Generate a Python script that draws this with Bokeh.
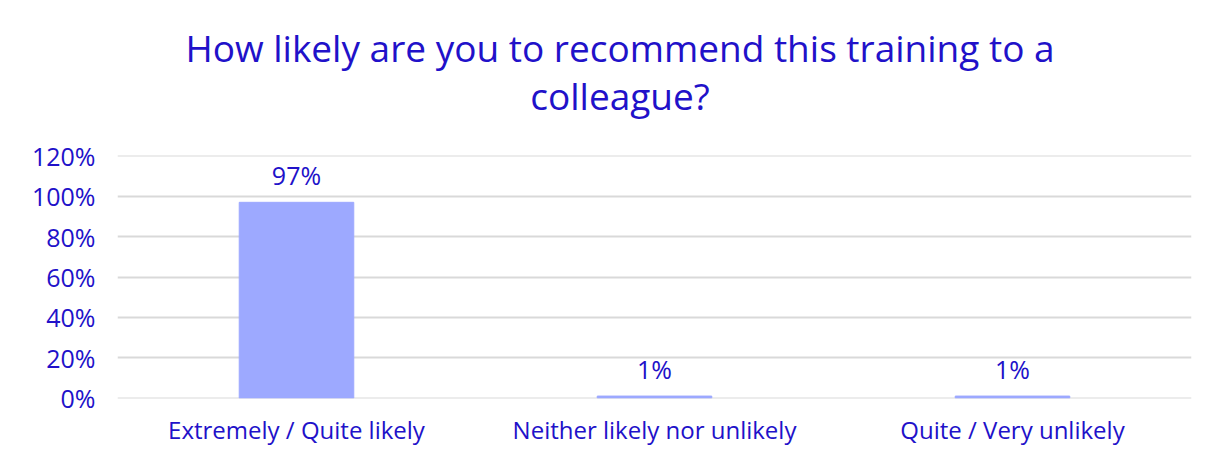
from bokeh.plotting import figure
from bokeh.models import ColumnDataSource, FixedTicker, NumeralTickFormatter, Div
from bokeh.layouts import column
from bokeh.core.properties import value
from bokeh.embed import file_html
from bokeh.resources import INLINE

categories = ["Extremely / Quite likely", "Neither likely nor unlikely", "Quite / Very unlikely"]
shares = [0.97, 0.01, 0.01]
share_labels = ["97%", "1%", "1%"]
y_ticks = [0, 0.2, 0.4, 0.6, 0.8, 1.0, 1.2]
title_lines = ["How likely are you to recommend this training to a", "colleague?"]

TEXT = "#2111c9"
BAR = "#9da9ff"
GRID = "#d9d9d9"
FONT = "Open Sans"

title = Div(
    text=('<div style="margin:0 0 0 20px;width:1190px;padding-top:19px;text-align:center;'
          f'font-family:\'{FONT}\';font-size:37px;line-height:48px;color:{TEXT};">'
          + "<br>".join(title_lines) + "</div>"),
    width=1210, height=122)

src = ColumnDataSource(dict(cat=categories, val=shares, lab=share_labels))

p = figure(x_range=categories, y_range=(-0.002, 1.202), width=1210, height=316,
           output_backend="svg", toolbar_location=None,
           min_border_left=117, min_border_right=19, min_border_top=23, min_border_bottom=47)
p.x_range.range_padding = 0
p.outline_line_color = None

p.vbar(x="cat", top="val", width=0.32, source=src, color=BAR)
p.text(x="cat", y="val", text="lab", source=src, text_align="center", text_baseline="bottom",
       y_offset=-10, text_color=TEXT, text_font=value(FONT), text_font_size="25px")

p.yaxis.ticker = FixedTicker(ticks=y_ticks)
p.yaxis.formatter = NumeralTickFormatter(format="0%")
for ax in (p.xaxis, p.yaxis):
    ax.axis_line_color = None
    ax.major_tick_line_color = None
    ax.minor_tick_line_color = None
    ax.major_label_text_color = TEXT
    ax.major_label_text_font = FONT
p.yaxis.major_label_text_font_size = "25px"
p.xaxis.major_label_text_font_size = "24px"
p.yaxis.major_label_standoff = 16
p.xaxis.major_label_standoff = 8

p.xgrid.grid_line_color = None
p.ygrid.grid_line_color = GRID
p.ygrid.grid_line_width = 2

layout = column(title, p, spacing=0)
open("out.html", "w").write(file_html(layout, INLINE))
